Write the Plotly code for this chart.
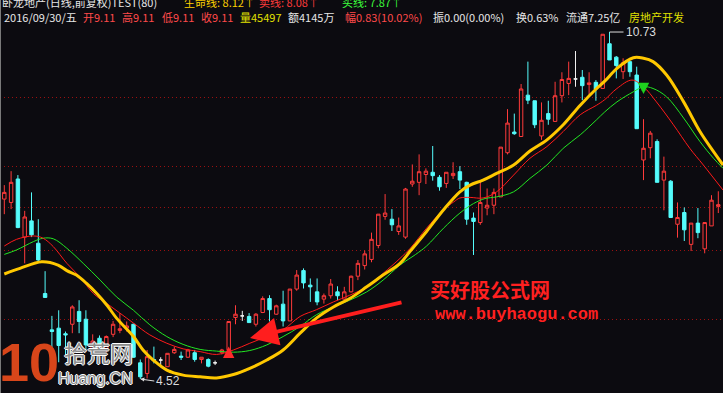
import numpy as np
import plotly.graph_objects as go

# ---------------- data ----------------
opens = [7.74,7.68,8.10,7.06,7.35,6.95,6.05,5.40,5.43,5.33,5.50,5.73,5.59,5.05,5.25,5.04,5.32,5.39,5.43,5.50,
         4.81,4.62,4.87,4.86,4.74,4.99,4.93,4.91,4.99,4.87,4.87,4.81,4.99,5.04,5.62,5.65,5.64,5.50,5.71,5.96,
         5.68,5.86,5.56,6.13,6.46,6.20,6.08,5.95,6.01,6.08,5.95,6.08,6.36,6.55,6.66,6.91,7.43,7.38,7.16,7.06,
         8.01,8.04,8.18,8.22,8.13,8.02,8.16,8.23,8.04,7.40,7.32,7.58,7.63,7.78,8.57,8.94,8.86,9.60,9.50,8.87,
         9.27,9.13,9.59,9.81,9.89,9.92,9.79,9.83,9.72,10.52,10.28,10.02,10.20,9.96,8.44,8.66,8.77,8.08,8.06,7.29,
         7.50,6.93,7.31,6.85,7.26,7.61]
highs = [7.99,8.24,8.17,7.53,7.86,7.38,6.45,5.65,5.75,5.37,5.84,5.93,5.75,5.32,5.30,5.30,5.56,5.70,5.55,5.51,
         4.87,5.04,5.10,4.91,4.98,5.10,5.01,5.06,5.04,4.91,4.89,4.85,5.06,5.55,5.84,5.74,5.70,5.70,6.00,6.02,
         5.85,6.10,6.13,6.47,6.50,6.32,6.32,6.05,6.31,6.18,6.17,6.37,6.65,6.82,7.14,7.47,7.83,7.56,7.41,7.94,
         8.36,8.54,8.29,8.69,8.17,8.22,8.40,8.33,8.05,7.50,8.05,7.93,7.93,8.67,9.35,9.27,9.80,10.20,9.50,9.47,
         9.50,9.84,10.01,10.20,10.39,10.05,10.01,9.87,10.69,10.73,10.30,10.26,10.20,10.11,9.17,8.96,8.81,8.50,8.08,7.68,
         7.59,7.31,7.58,7.32,7.81,7.88]
lows = [7.47,7.56,7.22,6.59,7.06,6.63,5.98,4.82,4.82,4.92,5.34,5.34,5.04,4.95,5.02,5.00,5.27,5.34,5.37,4.90,
        4.52,4.53,4.80,4.74,4.74,4.97,4.86,4.90,4.83,4.80,4.73,4.77,4.96,5.03,5.50,5.56,5.53,5.46,5.70,5.55,
        5.67,5.46,5.56,6.10,6.14,5.90,5.84,5.87,5.96,5.93,5.93,6.07,6.29,6.48,6.61,6.86,7.37,7.17,7.10,7.03,
        7.96,7.81,8.01,8.07,7.89,7.94,8.10,7.92,7.28,6.74,7.28,7.45,7.47,7.78,8.54,8.89,8.86,9.44,9.01,8.80,
        9.07,9.13,9.47,9.60,9.75,9.51,9.61,9.50,9.72,10.23,9.90,9.89,9.93,9.00,8.08,8.47,8.04,7.54,7.41,7.05,
        6.99,6.81,7.04,6.77,7.26,7.49]
closes = [7.86,8.04,7.23,7.42,7.10,6.65,5.98,5.37,5.12,5.31,5.81,5.55,5.13,5.20,5.10,5.28,5.50,5.42,5.47,4.91,
          4.56,4.92,4.85,4.86,4.98,5.05,4.91,5.04,4.87,4.91,4.75,4.81,5.04,5.55,5.68,5.65,5.53,5.68,5.96,5.76,
          5.83,5.56,6.13,6.38,6.24,6.17,5.90,6.01,6.22,6.01,6.08,6.36,6.59,6.76,7.02,7.47,7.49,7.28,7.26,7.92,
          8.06,8.23,8.24,8.16,7.96,8.22,8.20,8.08,7.38,7.34,7.68,7.63,7.86,8.67,9.10,8.91,9.71,9.51,9.07,9.15,
          9.17,9.59,9.88,9.90,9.89,9.77,9.82,9.71,10.69,10.23,10.13,10.18,10.02,9.00,8.65,8.92,8.04,8.24,7.41,7.41,
          7.19,7.31,7.14,7.32,7.72,7.64]

# indicator lines: (candle index, value) samples
life_x = [0,2.3,5.5,7.9,9.2,10.6,12.1,13.6,15.1,16.5,19,20.4,21.9,23.9,26.3,28.8,31.2,33.7,36.1,38.6,41,43.5,45.9,
          48.4,50.8,53.3,55.7,58.2,59.7,62.1,64.6,67,68.5,70.4,72.4,74.9,77.3,79.8,82.2,84.7,87.1,88.3,90.1,92.5,
          94,95.4,97.4,99.9,102.3,104.3,105.7]
life_y = [6.40,6.50,6.62,6.56,6.46,6.38,6.23,6.05,5.84,5.61,5.28,5.04,4.86,4.68,4.59,4.56,4.54,4.60,4.71,4.86,5.04,
          5.34,5.61,5.81,5.96,6.17,6.38,6.59,6.81,7.16,7.55,7.87,7.99,8.08,8.20,8.35,8.60,8.80,9.07,9.42,9.72,9.85,
          10.08,10.27,10.26,10.20,9.96,9.48,8.95,8.59,8.35]
sell_x = [0,1.8,4.3,5.7,7.2,9.2,11.1,13.1,15.1,17,19,21.4,23.9,26.3,28.8,31.2,33.7,36.1,38.6,41,43.5,45.9,48.4,
          50.8,53.3,55.7,58.2,59.7,62.1,64.6,66.1,67,68.5,70.4,72.4,74.9,77.3,79.8,82.2,84.7,87.1,88.3,90.1,92.3,
          94,95.9,98.4,100.8,102.8,105.7]
sell_y = [6.90,7.02,7.08,7.04,6.89,6.59,6.35,6.05,5.87,5.70,5.52,5.31,5.16,5.06,5.01,4.96,5.04,5.16,5.28,5.40,
          5.64,5.76,5.90,6.02,6.17,6.41,6.68,6.86,7.22,7.55,7.69,7.76,7.77,7.76,7.87,8.17,8.47,8.68,8.95,9.25,
          9.42,9.52,9.72,9.87,9.75,9.48,9.07,8.65,8.35,7.90]
buy_x = [0,1.8,4.3,5.7,7.2,9.2,11.6,14.1,16.5,19,21.4,23.9,26.3,28.8,31.2,33.7,36.1,38.6,41,43.5,45.9,48.4,50.8,
         53.3,55.7,58.2,60.5,62.1,64.6,67,69,70.7,72.4,74.9,77.3,79.8,82.2,84.7,87.1,88.3,90.1,92.5,94,95.4,97.4,
         99.9,102.3,104.3,105.7]
buy_y = [6.75,6.83,6.98,7.04,7.03,6.86,6.59,6.29,5.99,5.75,5.49,5.28,5.14,5.05,5.02,5.00,5.03,5.13,5.28,5.46,
         5.67,5.81,5.93,6.08,6.29,6.56,6.75,6.90,7.22,7.49,7.66,7.75,7.78,7.87,8.11,8.35,8.65,8.89,9.16,9.30,
         9.48,9.66,9.75,9.72,9.57,9.19,8.77,8.47,8.29]

grid_prices = [9.567, 8.332, 7.581, 6.829, 5.594]

buy_sig_idx, buy_sig_tip, buy_sig_tail = [33], [5.10], [4.87]
sell_sig_idx, sell_sig_tip, sell_sig_tail = [94], [9.62], [9.84]

hi_idx, hi_val = 89, 10.73
lo_idx, lo_val = 20, 4.52

header1 = [("卧龙地产(日线,前复权)TEST(80)", "#e6e6e6", 0),
           ("生命线: 8.12↑", "#ffd200", 182),
           ("卖线: 8.08↑", "#ff3c3c", 257),
           ("买线: 7.87↑", "#3cff3c", 340)]
header2 = [("2016/09/30/五", "#e6e6e6", 2), ("开9.11", "#ff4a4a", 81), ("高9.11", "#ff4a4a", 120),
           ("低9.11", "#ff4a4a", 160), ("收9.11", "#ff4a4a", 199), ("量45497", "#e0e000", 238),
           ("额4145万", "#e6e6e6", 286), ("幅0.83(10.02%)", "#ff4a4a", 343), ("振0.00(0.00%)", "#e6e6e6", 431),
           ("换0.63%", "#e6e6e6", 514), ("流通7.25亿", "#e6e6e6", 564), ("房地产开发", "#e0e000", 627)]

# ---------------- figure ----------------
W, H = 723, 393
BG = "#0c0b10"
RED = "#ff3b3b"
CYAN = "#54fcfc"

idx = np.arange(len(opens))
o, h, l, c = map(np.array, (opens, highs, lows, closes))
doji = o == c
nd = ~doji

fig = go.Figure()
fig.add_trace(go.Candlestick(
    x=idx[nd], open=o[nd], high=h[nd], low=l[nd], close=c[nd],
    increasing=dict(line=dict(color=RED, width=1), fillcolor=BG),
    decreasing=dict(line=dict(color=CYAN, width=1), fillcolor=CYAN),
    whiskerwidth=0, hoverinfo="skip", showlegend=False))
fig.add_trace(go.Candlestick(
    x=idx[doji], open=o[doji], high=h[doji], low=l[doji], close=c[doji],
    increasing=dict(line=dict(color="#f0f0f0", width=1), fillcolor="#f0f0f0"),
    decreasing=dict(line=dict(color="#f0f0f0", width=1), fillcolor="#f0f0f0"),
    whiskerwidth=0, hoverinfo="skip", showlegend=False))

fig.add_trace(go.Scatter(x=buy_x, y=buy_y, mode="lines", line=dict(color="#22e622", width=1, shape="spline"),
                         showlegend=False, hoverinfo="skip"))
fig.add_trace(go.Scatter(x=sell_x, y=sell_y, mode="lines", line=dict(color="#ff1a1a", width=1, shape="spline"),
                         showlegend=False, hoverinfo="skip"))
fig.add_trace(go.Scatter(x=life_x, y=life_y, mode="lines", line=dict(color="#ffc800", width=3, shape="spline"),
                         showlegend=False, hoverinfo="skip"))

dx = 6.8
x0px = 4.3
xr = [-x0px / dx, (W - x0px) / dx]
ytop, ybot = 11.303, 11.303 - H * 0.017896

ann = []
hdr_font = "Noto Sans CJK SC, Liberation Sans"
for txt, col, px in header1:
    ann.append(dict(text=txt, x=px / W, y=1 - 2 / H, xref="paper", yref="paper", xanchor="left", yanchor="middle",
                    showarrow=False, font=dict(family=hdr_font, size=11, color=col)))
for txt, col, px in header2:
    ann.append(dict(text=txt, x=px / W, y=1 - 16.5 / H, xref="paper", yref="paper", xanchor="left", yanchor="middle",
                    showarrow=False, font=dict(family=hdr_font, size=11, color=col)))

# high / low markers
ann.append(dict(text="10.73", x=hi_idx, y=hi_val, xref="x", yref="y", ax=14, ay=0, showarrow=True,
                arrowhead=0, arrowwidth=1, arrowcolor="#dcdcdc", xanchor="left", yanchor="middle",
                font=dict(family="Liberation Sans", size=12, color="#dcdcdc")))
ann.append(dict(text="4.52", x=lo_idx, y=lo_val, xref="x", yref="y", ax=14, ay=2, showarrow=True,
                arrowhead=2, arrowsize=0.8, arrowwidth=1, arrowcolor="#dcdcdc", xanchor="left", yanchor="middle",
                font=dict(family="Liberation Sans", size=12, color="#dcdcdc")))

# signal arrows
for xi, tip, tail in zip(buy_sig_idx, buy_sig_tip, buy_sig_tail):
    ann.append(dict(text="", x=xi, y=tip, ax=xi, ay=tail, xref="x", yref="y", axref="x", ayref="y",
                    showarrow=True, arrowhead=2, arrowsize=0.65, arrowwidth=3.5, arrowcolor="#ff2a2a"))
for xi, tip, tail in zip(sell_sig_idx, sell_sig_tip, sell_sig_tail):
    ann.append(dict(text="", x=xi, y=tip, ax=xi, ay=tail, xref="x", yref="y", axref="x", ayref="y",
                    showarrow=True, arrowhead=2, arrowsize=0.65, arrowwidth=3.5, arrowcolor="#1ed21e"))

# big hand-drawn red arrow
ann.append(dict(text="", x=250 / W, y=1 - 338 / H, xref="paper", yref="paper", ax=153, ay=-36,
                showarrow=True, arrowhead=2, arrowsize=1.4, arrowwidth=4, arrowcolor="#ff1e1e"))

# red watermark texts
ann.append(dict(text="<b>买好股公式网</b>", x=490 / W, y=1 - 289 / H, xref="paper", yref="paper",
                xanchor="center", yanchor="middle", showarrow=False,
                font=dict(family="Noto Sans CJK SC", size=20, color="#ff2020")))
ann.append(dict(text="<b>www.buyhaogu.com</b>", x=516 / W, y=1 - 314 / H, xref="paper", yref="paper",
                xanchor="center", yanchor="middle", showarrow=False,
                font=dict(family="Liberation Mono", size=17, color="#ff2020")))

# logo
outline = "1px 0 0 #ffffff, -1px 0 0 #ffffff, 0 1px 0 #ffffff, 0 -1px 0 #ffffff"
ann.append(dict(text="<b>10</b>", x=29 / W, y=1 - 362 / H, xref="paper", yref="paper",
                showarrow=False, xanchor="center", yanchor="middle",
                font=dict(family="Liberation Sans", size=54, color="#d8461a")))
ann.append(dict(text="拾荒网", x=98 / W, y=1 - 352 / H, xref="paper", yref="paper", showarrow=False,
                xanchor="center", yanchor="middle",
                font=dict(family="Noto Sans CJK SC", size=23, color="#8c8c8c", shadow=outline)))
ann.append(dict(text="Huang.CN", x=95 / W, y=1 - 378 / H, xref="paper", yref="paper", showarrow=False,
                xanchor="center", yanchor="middle",
                font=dict(family="Liberation Sans", size=16, color="#8c8c8c", shadow=outline)))

fig.update_layout(
    width=W, height=H, margin=dict(l=0, r=0, t=0, b=0, pad=0),
    paper_bgcolor=BG, plot_bgcolor=BG, boxgap=0.28,
    xaxis=dict(range=xr, showgrid=False, zeroline=False, showticklabels=False, ticks="",
               rangeslider=dict(visible=False), fixedrange=True),
    yaxis=dict(range=[ybot, ytop], tickvals=grid_prices, showticklabels=False, ticks="",
               showgrid=True, gridcolor="#9a1010", gridwidth=1, griddash="1px,3px", zeroline=False),
    annotations=ann,
    shapes=[dict(type="line", xref="paper", yref="paper", x0=0.5 / W, x1=0.5 / W, y0=0, y1=1,
                 line=dict(color="#7a7a7a", width=1))],
    showlegend=False,
)

fig.write_html("out.html")
